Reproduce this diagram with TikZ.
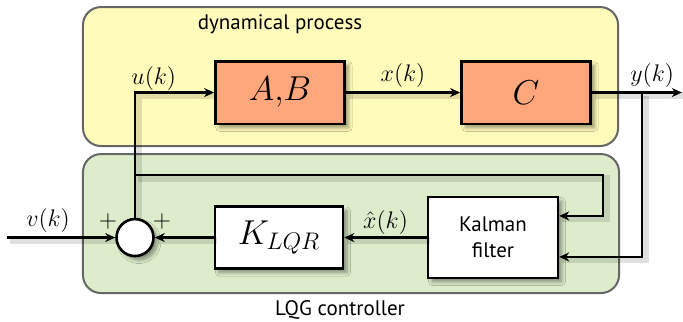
\documentclass[tikz,border=0pt]{standalone}
\usepackage{amsmath}
\usepackage{fontspec}
\setsansfont{PT Sans}
\usepackage{tikz}
\usetikzlibrary{arrows.meta,positioning,shadows.blur}
\definecolor{procyellow}{HTML}{FFFBBB}
\definecolor{ctrlgreen}{HTML}{DDEDCC}
\definecolor{blocksalmon}{HTML}{FFA77C}
\definecolor{regionline}{HTML}{666666}

\begin{document}
\begin{tikzpicture}[
  region/.style={draw=regionline, line width=1pt, rounded corners=9pt},
  block/.style={draw, line width=1.3pt, minimum width=2.27cm, minimum height=1.1cm,
                align=center, font=\LARGE, blur shadow={shadow blur steps=8, shadow xshift=2pt, shadow yshift=-2pt, shadow opacity=40}},
  sumnode/.style={draw, circle, fill=white, line width=1.3pt, minimum size=0.65cm, inner sep=0pt,
                  blur shadow={shadow blur steps=8, shadow xshift=2pt, shadow yshift=-2pt, shadow opacity=40}},
  arrow/.style={-{Stealth[length=5pt, width=4.5pt]}, line width=1.3pt,
                preaction={draw, -, black, opacity=0.12, line width=3.5pt, transform canvas={shift={(1.5pt,-1.5pt)}}}},
  sig/.style={font=\fontsize{11.5}{13}\selectfont, inner sep=2pt},
  caption/.style={font=\sffamily\fontsize{10.5}{12}\selectfont}
]
\useasboundingbox (0,0) rectangle (12.0,5.641);

% Regions
\draw[region, fill=procyellow] (1.458,3.075) rectangle (10.86,5.517);
\draw[region, fill=ctrlgreen] (1.458,0.492) rectangle (10.876,2.934);
\node[caption] (proclabel) at (4.92,5.219) {dynamical process};
\node[caption] (ctrllabel) at (5.974,0.193) {LQG controller};

% Process blocks
\node[block, fill=blocksalmon] (ab) at (4.92,4.015) {$A{,}B$};
\node[block, fill=blocksalmon] (c) at (9.242,4.015) {$C$};

% Controller blocks
\node[block, fill=white, minimum width=2.25cm, minimum height=1.09cm] (klqr) at (4.902,1.467) {$K_{LQR}$};
\node[block, fill=white, font=\sffamily\fontsize{10.5}{13}\selectfont, minimum width=2.28cm, minimum height=1.42cm] (kal) at (8.662,1.467) {Kalman\\filter};
\node[sumnode] (sum) at (2.372,1.467) {};
\node[font=\large] (plusl) at (1.898,1.757) {$+$};
\node[font=\large] (plusr) at (2.847,1.757) {$+$};

% Free ends
\coordinate (vin) at (0.123,1.467);
\coordinate (yout) at (11.98,4.015);
\coordinate (ybr) at (11.28,4.015);
\coordinate (utap) at (2.372,2.565);
\coordinate (uturn) at (10.595,2.565);

% Signals
\draw[arrow] (sum.north) -- (sum.north |- ab.west) coordinate (ucorner) -- (ab.west);
\node[sig, above right=-1pt and -4pt of ucorner] (ulabel) {$u(k)$};
\draw[arrow] (ab) -- (c) node[sig, midway, above] {$x(k)$};
\draw[arrow] (c) -- (yout) node[sig, pos=0.67, above] {$y(k)$};
\draw[arrow] (ybr) |- ([yshift=-0.34cm]kal.east);
\draw[arrow] (utap) -- (uturn) |- ([yshift=0.38cm]kal.east);
\draw[arrow] (kal) -- (klqr) node[sig, midway, above, inner sep=1pt] {$\hat{x}(k)$};
\draw[arrow] (klqr) -- (sum);
\draw[arrow] (vin) -- (sum) node[sig, pos=0.38, above] {$v(k)$};

\end{tikzpicture}
\end{document}
